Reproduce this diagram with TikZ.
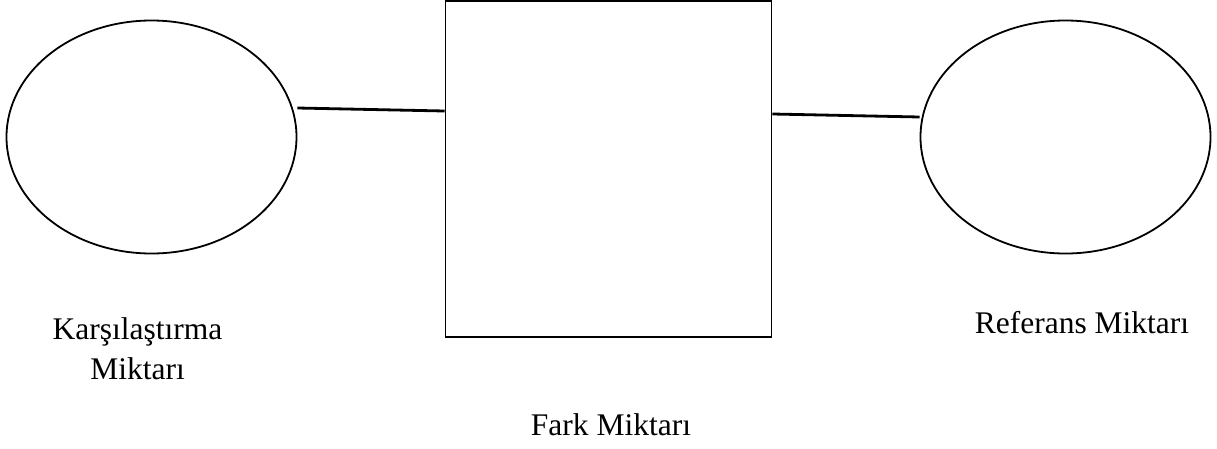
\documentclass[tikz,border=0pt]{standalone}
\usepackage{fontspec}
\setmainfont{Liberation Serif}
\usepackage{tikz}
\usetikzlibrary{shapes.geometric, positioning, calc}

\begin{document}
\begin{tikzpicture}[x=1pt, y=-1pt,
  shapeline/.style={draw, line width=1.8pt},
  link/.style={line width=2.8pt},
  caption/.style={font=\fontsize{31.5}{40}\selectfont, inner sep=0pt, align=center}]
  % Canvas
  \useasboundingbox (0,0) rectangle (1217,448);

  % Quantities
  \node[ellipse, shapeline, minimum width=290pt, minimum height=233pt] (cmp) at (151.5,137) {};
  \node[rectangle, shapeline, minimum width=326pt, minimum height=336pt] (diff) at (608.5,169) {};
  \node[ellipse, shapeline, minimum width=290pt, minimum height=233pt] (ref) at (1065.5,137) {};

  % Links
  \draw[link] ([yshift=29pt]cmp.east) -- ([yshift=58pt]diff.west);
  \draw[link] ([yshift=55pt]diff.east) -- ([yshift=20pt]ref.west);

  % Labels
  \node[caption, anchor=north] (cmplbl) at (137.5,317) {Karşılaştırma\\Miktarı};
  \node[caption, anchor=base] (reflbl) at (1082,333) {Referans Miktarı};
  \node[caption, anchor=base] (difflbl) at (611,435) {Fark Miktarı};
\end{tikzpicture}
\end{document}
